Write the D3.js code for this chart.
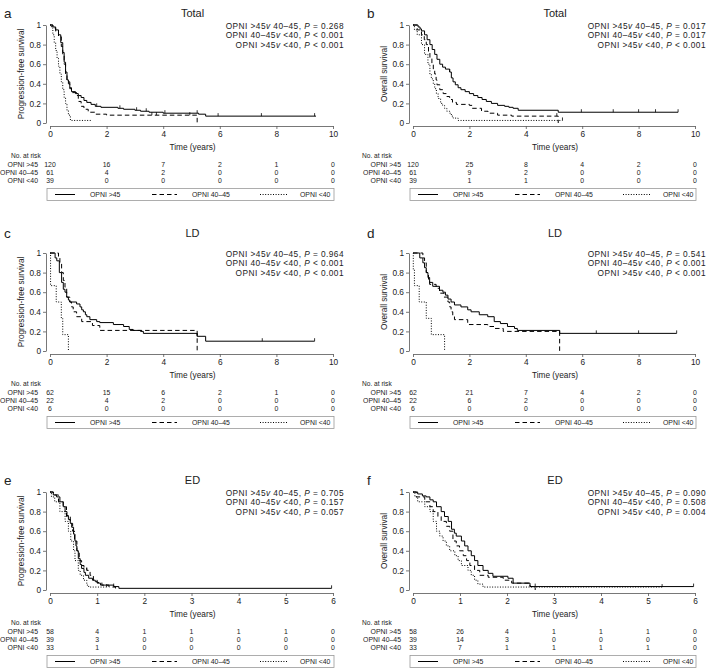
<!DOCTYPE html>
<html><head><meta charset="utf-8">
<script src="https://cdn.jsdelivr.net/npm/d3@7"></script>
<style>body{margin:0;background:#fff} svg{display:block} text{font-family:"Liberation Sans",Arial,Helvetica,sans-serif}</style>
</head><body><svg id="c" width="709" height="668"></svg>
<script>
// ---------- data ----------
const groupNames = ["OPNI >45", "OPNI 40–45", "OPNI <40"];
const comparisons = [["OPNI >45", "40–45"], ["OPNI 40–45", "<40"], ["OPNI >45", "<40"]];
const xTicks10 = [0, 2, 4, 6, 8, 10];
const xTicks6 = [0, 1, 2, 3, 4, 5, 6];
const yTicks = [0, 0.2, 0.4, 0.6, 0.8, 1];
const panelLetters = ["a", "b", "c", "d", "e", "f"];
const panelTitles = ["Total", "Total", "LD", "LD", "ED", "ED"];
const yLabels = ["Progression-free survival", "Overall survival", "Progression-free survival", "Overall survival", "Progression-free survival", "Overall survival"];

// P values
const aP = ["= 0.268", "< 0.001", "< 0.001"];
const bP = ["= 0.017", "= 0.017", "< 0.001"];
const cP = ["= 0.964", "< 0.001", "< 0.001"];
const dP = ["= 0.541", "< 0.001", "< 0.001"];
const eP = ["= 0.705", "= 0.157", "= 0.057"];
const fP = ["= 0.090", "= 0.508", "= 0.004"];

// numbers at risk
const aRiskHigh = [120, 16, 7, 2, 1, 0], aRiskMid = [61, 4, 2, 0, 0, 0], aRiskLow = [39, 0, 0, 0, 0, 0];
const bRiskHigh = [120, 25, 8, 4, 2, 0], bRiskMid = [61, 9, 2, 0, 0, 0], bRiskLow = [39, 1, 1, 0, 0, 0];
const cRiskHigh = [62, 15, 6, 2, 1, 0], cRiskMid = [22, 4, 2, 0, 0, 0], cRiskLow = [6, 0, 0, 0, 0, 0];
const dRiskHigh = [62, 21, 7, 4, 2, 0], dRiskMid = [22, 6, 2, 0, 0, 0], dRiskLow = [6, 0, 0, 0, 0, 0];
const eRiskHigh = [58, 4, 1, 1, 1, 1, 0], eRiskMid = [39, 3, 0, 0, 0, 0, 0], eRiskLow = [33, 1, 0, 0, 0, 0, 0];
const fRiskHigh = [58, 26, 4, 1, 1, 1, 0], fRiskMid = [39, 14, 3, 0, 0, 0, 0], fRiskLow = [33, 7, 1, 1, 1, 1, 0];

// Kaplan-Meier step points [time (years), survival]
const aHigh = [[0,1],[0.1,0.98],[0.2,0.95],[0.3,0.9],[0.38,0.82],[0.45,0.72],[0.5,0.62],[0.55,0.52],[0.6,0.44],[0.65,0.4],[0.7,0.35],[0.76,0.32],[0.9,0.3],[1.0,0.28],[1.1,0.26],[1.2,0.23],[1.3,0.21],[1.45,0.19],[1.6,0.17],[1.8,0.16],[2.4,0.15],[2.6,0.14],[3.0,0.13],[3.2,0.12],[3.5,0.11],[4.0,0.10],[5.25,0.09],[5.5,0.07],[9.4,0.07]];
const aMid = [[0,1],[0.1,0.97],[0.2,0.93],[0.3,0.88],[0.4,0.78],[0.45,0.7],[0.5,0.6],[0.55,0.5],[0.6,0.42],[0.7,0.36],[0.76,0.31],[0.95,0.28],[1.0,0.22],[1.1,0.17],[1.2,0.14],[1.35,0.11],[1.6,0.09],[2.0,0.08],[5.2,0]];
const aLow = [[0,1],[0.05,0.97],[0.1,0.9],[0.15,0.82],[0.2,0.74],[0.25,0.66],[0.3,0.58],[0.35,0.5],[0.4,0.42],[0.45,0.34],[0.5,0.26],[0.55,0.2],[0.6,0.13],[0.65,0.08],[0.72,0.026],[1.47,0.026]];
const bHigh = [[0,1],[0.18,0.98],[0.25,0.96],[0.3,0.94],[0.41,0.9],[0.5,0.85],[0.6,0.8],[0.68,0.75],[0.77,0.7],[0.85,0.65],[0.95,0.6],[1.05,0.57],[1.15,0.55],[1.3,0.52],[1.36,0.46],[1.42,0.42],[1.5,0.39],[1.6,0.36],[1.7,0.34],[1.85,0.32],[2.0,0.3],[2.15,0.28],[2.3,0.26],[2.45,0.24],[2.6,0.22],[2.78,0.2],[3.0,0.18],[3.25,0.17],[3.4,0.16],[3.55,0.15],[3.73,0.13],[5.15,0.11],[9.4,0.11]];
const bMid = [[0,1],[0.15,0.95],[0.3,0.9],[0.4,0.85],[0.47,0.8],[0.55,0.72],[0.6,0.66],[0.67,0.6],[0.72,0.55],[0.77,0.5],[0.82,0.44],[0.85,0.39],[0.95,0.34],[1.07,0.3],[1.2,0.27],[1.3,0.24],[1.4,0.21],[1.54,0.19],[2.0,0.18],[2.1,0.15],[2.43,0.12],[2.66,0.1],[3.0,0.08],[3.5,0.07],[5.15,0]];
const bLow = [[0,1],[0.05,0.95],[0.15,0.9],[0.3,0.8],[0.41,0.7],[0.53,0.6],[0.6,0.5],[0.65,0.45],[0.72,0.4],[0.77,0.35],[0.83,0.3],[0.89,0.25],[0.98,0.2],[1.05,0.18],[1.12,0.15],[1.2,0.12],[1.3,0.1],[1.36,0.07],[1.42,0.05],[1.6,0.026],[5.3,0.026]];
const cHigh = [[0,1],[0.18,0.95],[0.24,0.92],[0.33,0.8],[0.41,0.7],[0.47,0.63],[0.53,0.6],[0.59,0.55],[0.65,0.52],[0.7,0.5],[0.94,0.48],[1.06,0.45],[1.12,0.42],[1.18,0.4],[1.25,0.37],[1.3,0.35],[1.41,0.32],[1.65,0.3],[1.76,0.29],[2.24,0.27],[2.6,0.25],[2.8,0.22],[2.94,0.21],[3.2,0.2],[3.3,0.18],[5.2,0.15],[5.5,0.1],[9.35,0.1]];
const cMid = [[0,1],[0.3,0.95],[0.35,0.9],[0.41,0.8],[0.47,0.72],[0.53,0.65],[0.59,0.55],[0.7,0.5],[0.76,0.45],[0.82,0.4],[0.94,0.35],[1.12,0.3],[1.5,0.26],[1.76,0.21],[5.2,0]];
const cLow = [[0,1],[0.02,0.667],[0.22,0.5],[0.4,0.333],[0.45,0.167],[0.65,0]];
const dHigh = [[0,1],[0.24,0.95],[0.35,0.9],[0.41,0.85],[0.47,0.8],[0.53,0.75],[0.59,0.7],[0.7,0.66],[0.94,0.62],[1.06,0.6],[1.15,0.57],[1.24,0.53],[1.35,0.5],[1.47,0.47],[1.7,0.45],[1.94,0.42],[2.06,0.4],[2.35,0.37],[2.65,0.35],[2.88,0.3],[3.1,0.28],[3.35,0.25],[3.6,0.23],[3.7,0.21],[5.2,0.18],[9.35,0.18]];
const dMid = [[0,1],[0.35,0.95],[0.41,0.9],[0.47,0.8],[0.55,0.72],[0.59,0.68],[0.82,0.64],[0.94,0.59],[1.1,0.55],[1.24,0.5],[1.3,0.45],[1.35,0.4],[1.41,0.36],[1.47,0.32],[1.94,0.27],[2.65,0.25],[2.9,0.23],[3.2,0.2],[5.2,0]];
const dLow = [[0,1],[0.01,0.833],[0.05,0.667],[0.22,0.5],[0.47,0.333],[0.65,0.167],[1.12,0]];
const eHigh = [[0,1],[0.07,0.97],[0.14,0.95],[0.21,0.9],[0.28,0.85],[0.32,0.8],[0.36,0.76],[0.39,0.72],[0.43,0.68],[0.46,0.64],[0.5,0.57],[0.53,0.5],[0.55,0.45],[0.57,0.4],[0.6,0.32],[0.64,0.26],[0.67,0.22],[0.72,0.18],[0.75,0.15],[0.82,0.12],[0.9,0.1],[0.96,0.085],[1.0,0.07],[1.07,0.05],[1.35,0.035],[1.46,0.017],[5.97,0.017]];
const eMid = [[0,1],[0.07,0.97],[0.18,0.9],[0.28,0.85],[0.35,0.75],[0.43,0.68],[0.48,0.6],[0.52,0.5],[0.57,0.4],[0.62,0.3],[0.67,0.25],[0.72,0.22],[0.78,0.2],[0.85,0.15],[0.92,0.1],[1.0,0.077],[1.1,0.05],[1.25,0.03],[1.39,0]];
const eLow = [[0,1],[0.03,0.95],[0.1,0.9],[0.21,0.8],[0.32,0.7],[0.39,0.6],[0.44,0.5],[0.5,0.4],[0.53,0.3],[0.6,0.2],[0.64,0.15],[0.71,0.1],[0.78,0.05],[0.82,0.03],[1.2,0.03]];
const fHigh = [[0,1],[0.1,0.98],[0.2,0.96],[0.28,0.95],[0.36,0.92],[0.43,0.9],[0.5,0.85],[0.6,0.8],[0.67,0.75],[0.75,0.7],[0.82,0.62],[0.88,0.58],[0.92,0.55],[1.03,0.5],[1.1,0.45],[1.17,0.4],[1.24,0.35],[1.31,0.3],[1.38,0.25],[1.49,0.2],[1.6,0.17],[1.7,0.14],[2.02,0.12],[2.13,0.07],[2.49,0.035],[5.97,0.035]];
const fMid = [[0,1],[0.07,0.95],[0.25,0.9],[0.36,0.85],[0.43,0.8],[0.53,0.75],[0.6,0.7],[0.71,0.65],[0.78,0.6],[0.85,0.5],[0.92,0.45],[0.99,0.4],[1.07,0.35],[1.14,0.3],[1.21,0.25],[1.31,0.2],[1.42,0.15],[1.6,0.13],[1.92,0.1],[2.1,0.07],[2.49,0.035],[2.6,0]];
const fLow = [[0,1],[0.04,0.95],[0.1,0.9],[0.25,0.85],[0.36,0.8],[0.43,0.7],[0.5,0.6],[0.57,0.55],[0.64,0.5],[0.71,0.45],[0.78,0.4],[0.89,0.35],[0.96,0.3],[1.03,0.25],[1.17,0.2],[1.24,0.15],[1.31,0.1],[1.38,0.06],[1.49,0.03],[5.3,0.03]];

// censoring times
const aHighCens = [1.65, 2.47, 3.06, 3.4, 4.06, 5.2, 5.94, 7.47, 9.35], aMidCens = [3.6, 3.76, 4.94], aLowCens = [];
const bHighCens = [1.3, 5.97, 7.1, 8.0, 8.6, 9.4], bMidCens = [5.1], bLowCens = [5.3];
const cHighCens = [5.2, 7.5, 9.35], cMidCens = [], cLowCens = [];
const dHighCens = [5.2, 6.5, 8.0, 9.35], dMidCens = [], dLowCens = [];
const eHighCens = [1.35, 5.97], eMidCens = [0.78], eLowCens = [1.2];
const fHighCens = [2.6, 5.97], fMidCens = [], fLowCens = [5.3];

// ---------- assemble ----------
const panels = [
  {curves:[aHigh,aMid,aLow], cens:[aHighCens,aMidCens,aLowCens], risk:[aRiskHigh,aRiskMid,aRiskLow], p:aP, xTicks:xTicks10},
  {curves:[bHigh,bMid,bLow], cens:[bHighCens,bMidCens,bLowCens], risk:[bRiskHigh,bRiskMid,bRiskLow], p:bP, xTicks:xTicks10},
  {curves:[cHigh,cMid,cLow], cens:[cHighCens,cMidCens,cLowCens], risk:[cRiskHigh,cRiskMid,cRiskLow], p:cP, xTicks:xTicks10},
  {curves:[dHigh,dMid,dLow], cens:[dHighCens,dMidCens,dLowCens], risk:[dRiskHigh,dRiskMid,dRiskLow], p:dP, xTicks:xTicks10},
  {curves:[eHigh,eMid,eLow], cens:[eHighCens,eMidCens,eLowCens], risk:[eRiskHigh,eRiskMid,eRiskLow], p:eP, xTicks:xTicks6},
  {curves:[fHigh,fMid,fLow], cens:[fHighCens,fMidCens,fLowCens], risk:[fRiskHigh,fRiskMid,fRiskLow], p:fP, xTicks:xTicks6}
];

const svg = d3.select("#c");
const colX = [[50, 333], [413, 695]];
const rowTop = [25, 253, 492];
const titleY = [13, 233, 480];
const plotH = 98;
const dashes = [null, "4.5,3", "1,1.6"];
const axisCol = "#555", textCol = "#222";

function stepVal(pts, t) {
  let v = pts[0][1];
  for (const p of pts) { if (p[0] <= t) v = p[1]; else break; }
  return v;
}

panels.forEach((P, i) => {
  const col = i % 2, row = Math.floor(i / 2);
  const [x0, x1] = colX[col];
  const y1 = rowTop[row], y0 = y1 + plotH;
  const xmax = P.xTicks[P.xTicks.length - 1];
  const x = d3.scaleLinear().domain([0, xmax]).range([x0, x1]);
  const y = d3.scaleLinear().domain([0, 1]).range([y0, y1]);
  const g = svg.append("g");

  // panel letter & title
  g.append("text").attr("x", col ? 367 : 4).attr("y", titleY[row] + 5).attr("font-size", 13.5).attr("fill", textCol).text(panelLetters[i]);
  g.append("text").attr("x", (x0 + x1) / 2 + 1).attr("y", titleY[row] + 4).attr("text-anchor", "middle").attr("font-size", 11).attr("fill", textCol).text(panelTitles[i]);

  // y axis
  const ya = g.append("g").attr("transform", `translate(${x0 - 4},0)`)
    .call(d3.axisLeft(y).tickValues(yTicks).tickSize(3).tickSizeOuter(0).tickPadding(2).tickFormat(d => String(+d.toFixed(1))));
  // x axis
  const xa = g.append("g").attr("transform", `translate(0,${y0 + 3})`)
    .call(d3.axisBottom(x).tickValues(P.xTicks).tickSize(3).tickSizeOuter(0).tickPadding(2).tickFormat(d => d));
  [ya, xa].forEach(a => {
    a.select(".domain").attr("stroke", axisCol).attr("stroke-width", 0.8);
    a.selectAll(".tick line").attr("stroke", axisCol).attr("stroke-width", 0.8);
    a.selectAll(".tick text").attr("fill", textCol).attr("font-size", 8.3).attr("font-family", '"Liberation Sans",Arial,sans-serif');
  });

  // axis titles
  g.append("text").attr("transform", `translate(${x0 - 29},${(y0 + y1) / 2}) rotate(-90)`)
    .attr("text-anchor", "middle").attr("dy", "0.35em").attr("font-size", 8.2).attr("fill", textCol).text(yLabels[i]);
  g.append("text").attr("x", (x0 + x1) / 2 + 1).attr("y", y0 + 27).attr("text-anchor", "middle").attr("font-size", 8.3).attr("fill", textCol).text("Time (years)");

  // P values
  comparisons.forEach((c, k) => {
    const t = g.append("text").attr("x", x1 + 11).attr("y", y1 + 3.5 + k * 9.6).attr("text-anchor", "end")
      .attr("font-size", 8.3).attr("letter-spacing", 0.45).attr("fill", textCol);
    t.append("tspan").text(c[0]);
    t.append("tspan").attr("font-style", "italic").text("v");
    t.append("tspan").text(" " + c[1] + ", ");
    t.append("tspan").attr("font-style", "italic").text("P");
    t.append("tspan").text(" " + P.p[k]);
  });

  // curves
  const line = d3.line().x(d => x(d[0])).y(d => y(d[1])).curve(d3.curveStepAfter);
  P.curves.forEach((pts, k) => {
    g.append("path").attr("d", line(pts)).attr("fill", "none").attr("stroke", "#000").attr("stroke-width", 1)
      .attr("stroke-dasharray", dashes[k]);
    g.selectAll(null).data(P.cens[k]).join("line")
      .attr("x1", d => x(d)).attr("x2", d => x(d))
      .attr("y1", d => y(stepVal(pts, d)) - 3).attr("y2", d => y(stepVal(pts, d)))
      .attr("stroke", "#000").attr("stroke-width", 0.8);
  });

  // risk table
  g.append("text").attr("x", col ? 362 : 11).attr("y", y0 + 34.5).attr("font-size", 6.6).attr("fill", textCol).text("No. at risk");
  P.risk.forEach((r, k) => {
    const yy = y0 + 43.5 + k * 8.3;
    g.append("text").attr("x", x0 - 12).attr("y", yy).attr("text-anchor", "end").attr("font-size", 6.9).attr("fill", textCol).text(groupNames[k]);
    g.selectAll(null).data(r).join("text")
      .attr("x", (d, j) => x(P.xTicks[j])).attr("y", yy).attr("text-anchor", "middle")
      .attr("font-size", 6.9).attr("fill", textCol).text(d => d);
  });

  // legend
  const bx = x0 - 3, by = y0 + 65.5, bw = x1 - x0 + 4, bh = 12;
  g.append("rect").attr("x", bx).attr("y", by).attr("width", bw).attr("height", bh).attr("fill", "#fff").attr("stroke", "#999").attr("stroke-width", 0.8);
  const legPos = [[8, 28, 43], [105, 130, 145], [213, 240, 253]];
  legPos.forEach((lp, k) => {
    g.append("line").attr("x1", bx + lp[0]).attr("x2", bx + lp[1]).attr("y1", by + bh / 2).attr("y2", by + bh / 2)
      .attr("stroke", "#000").attr("stroke-width", 1).attr("stroke-dasharray", dashes[k]);
    g.append("text").attr("x", bx + lp[2]).attr("y", by + bh / 2 + 2.4).attr("font-size", 6.9).attr("fill", textCol).text(groupNames[k]);
  });
});
</script></body></html>
